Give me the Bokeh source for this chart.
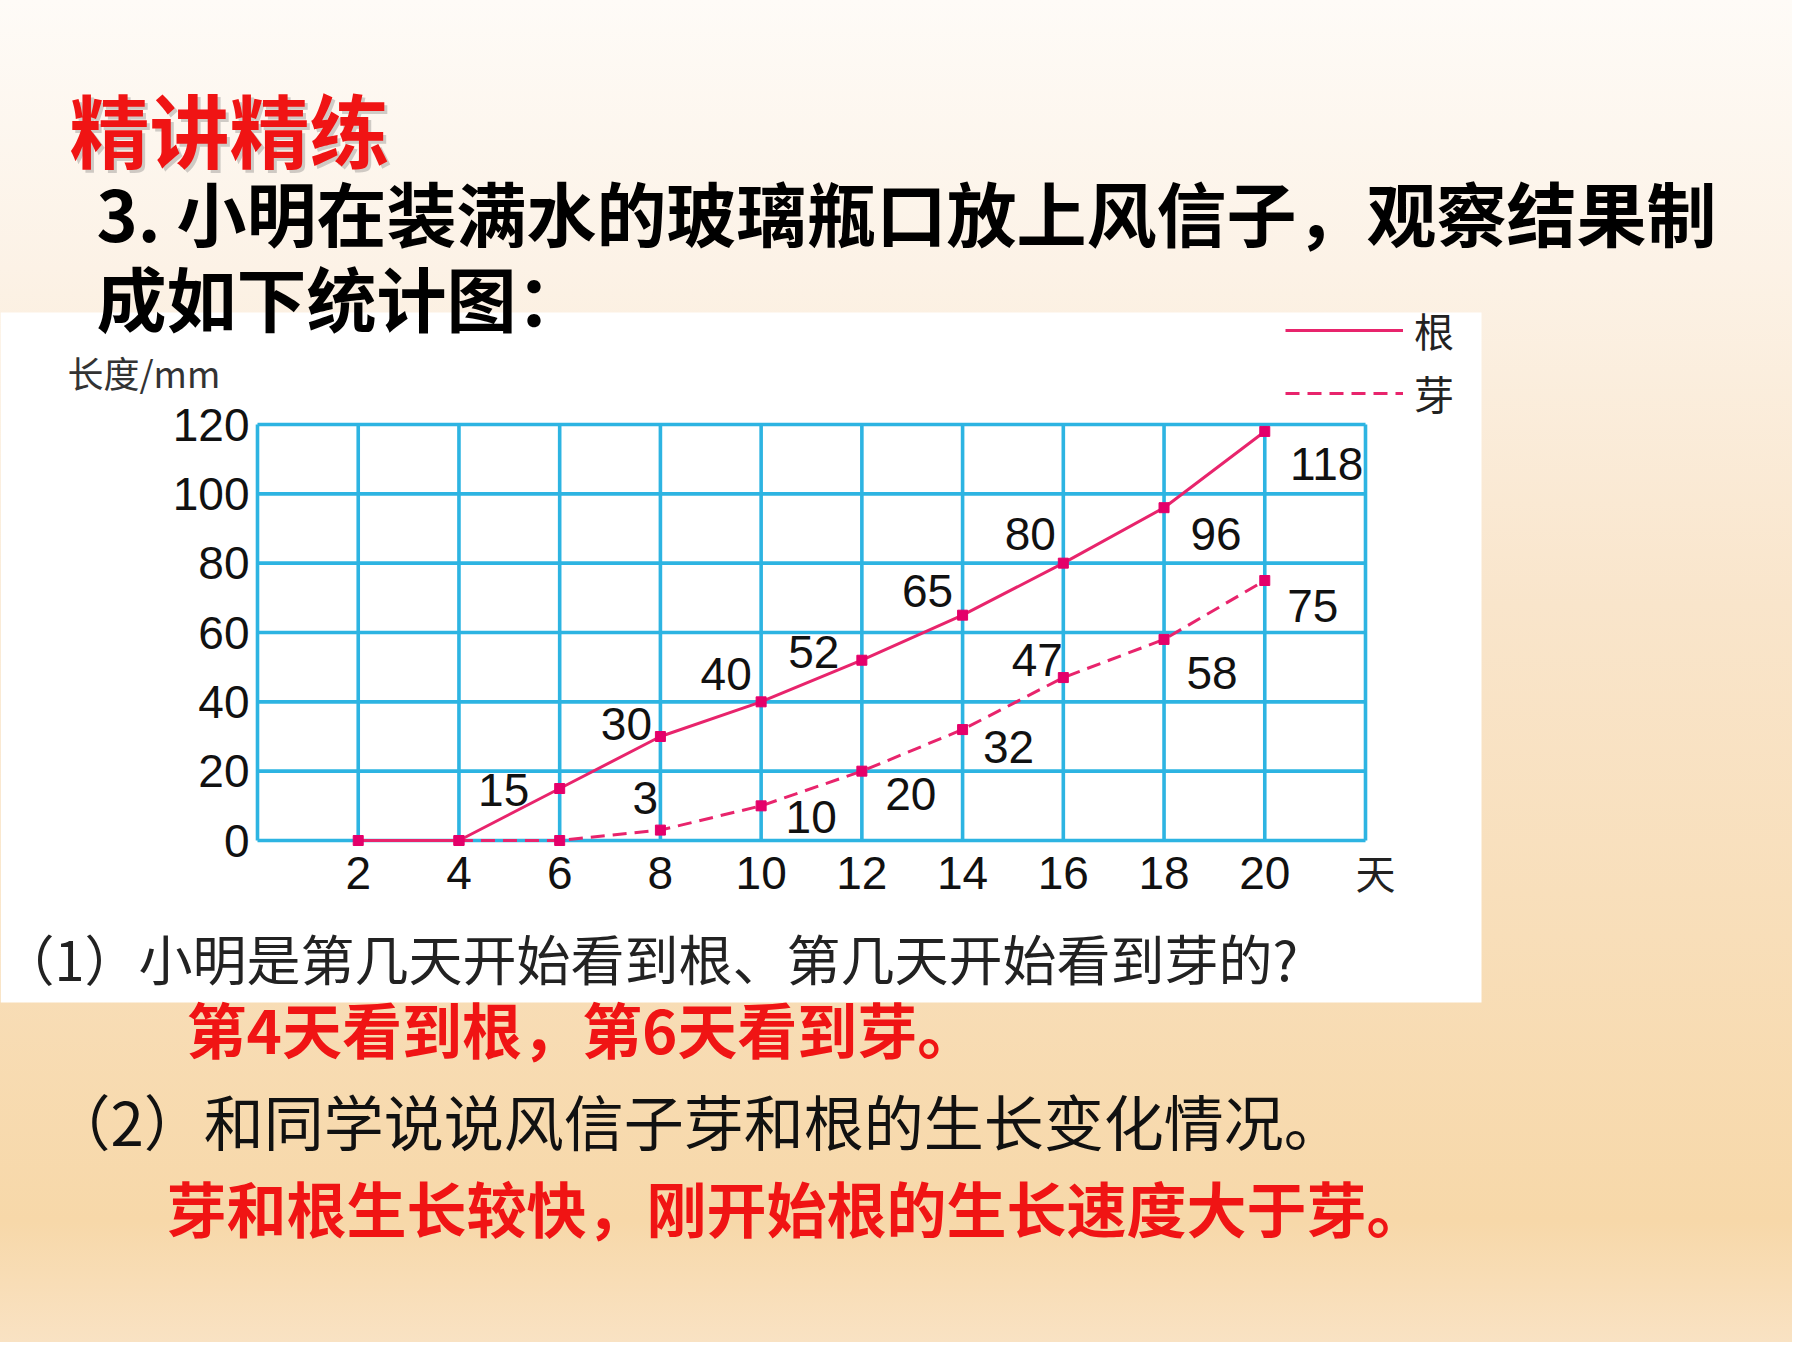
from bokeh.plotting import figure
from bokeh.models import (Range1d, Label, BoxAnnotation, Legend, LegendItem,
                          ColumnDataSource)
from bokeh.core.properties import value
from bokeh.embed import file_html
from bokeh.resources import INLINE

# ---------------- data ----------------
days = [2, 4, 6, 8, 10, 12, 14, 16, 18, 20]
root_mm = [0, 0, 15, 30, 40, 52, 65, 80, 96, 118]
bud_days = [4, 6, 8, 10, 12, 14, 16, 18, 20]
bud_mm = [0, 0, 3, 10, 20, 32, 47, 58, 75]
series_names = ["根", "芽"]

x_tick_values = [2, 4, 6, 8, 10, 12, 14, 16, 18, 20]
x_tick_labels = ["2", "4", "6", "8", "10", "12", "14", "16", "18", "20"]
x_min, x_max = 0, 22
x_unit_label = "天"
y_tick_values = [0, 20, 40, 60, 80, 100, 120]
y_tick_labels = ["0", "20", "40", "60", "80", "100", "120"]
y_axis_title = "长度/mm"

heading = "精讲精练"
question_lines = ["3. 小明在装满水的玻璃瓶口放上风信子，观察结果制", "成如下统计图："]
q1 = "（1）小明是第几天开始看到根、第几天开始看到芽的?"
a1 = "第4天看到根，第6天看到芽。"
q2 = "（2）和同学说说风信子芽和根的生长变化情况。"
a2 = "芽和根生长较快，刚开始根的生长速度大于芽。"

# label pixel offsets (style only)
root_label_dx = [-56, -34, -35, -48, -35, -33, 52, 62]
root_label_dy = [1, -13, -28, -8, -24, -29, 26, 33]
bud_label_dx = [-15, 50, 49, 46, -26, 48, 48]
bud_label_dy = [-32, 11, 23, 17, -18, 34, 25]

# ---------------- layout / styles ----------------
W, H = 1792, 1342
CH_LEFT, CH_RIGHT = 257, 1365               # chart grid box in canvas pixels
CH_TOP, CH_BOTTOM = 424, 840
PINK = "#E8246C"
PINK_MARK = "#E4006A"
GRID = "#2DB4E2"
RED = "#F01414"
CJK = "Noto Sans CJK SC"
NUM = "Liberation Sans"

y_lo, y_hi = y_tick_values[0], y_tick_values[-1]

# chart range mapped so that the data box lands on the grid box
kx = (CH_RIGHT - CH_LEFT) / (x_max - x_min)
ky = (CH_BOTTOM - CH_TOP) / (y_hi - y_lo)
chart_x = Range1d(x_min - CH_LEFT / kx, x_min + (W - CH_LEFT) / kx)
chart_y = Range1d(y_lo - (H - CH_BOTTOM) / ky, y_lo + CH_BOTTOM / ky)

p = figure(width=W, height=H, output_backend="svg", toolbar_location=None,
           x_range=Range1d(0, W), y_range=Range1d(H, 0),
           x_axis_type=None, y_axis_type=None, min_border=0)
p.extra_x_ranges = {"chart": chart_x}
p.extra_y_ranges = {"chart": chart_y}
p.styles = {"background": "linear-gradient(to bottom, #fefbf7 0%, #fcf2e6 20%, "
                          "#f9e5cb 45%, #f7d8a9 91%, #f9e2c3 100%)"}
p.border_fill_alpha = 0
p.background_fill_alpha = 0
p.outline_line_color = None
p.grid.visible = False

C = dict(x_range_name="chart", y_range_name="chart")

# white panel behind the chart
p.add_layout(BoxAnnotation(left=0, right=1481, top=312, bottom=1002,
                           fill_color="white", fill_alpha=1, line_color=None,
                           level="underlay"))

# grid lines (from tick arrays, through the chart scale)
gx = [x_min] + x_tick_values + [x_max]
p.segment(x0=gx, y0=[y_lo] * len(gx), x1=gx, y1=[y_hi] * len(gx),
          line_color=GRID, line_width=3.6, **C)
p.segment(x0=[x_min] * len(y_tick_values), y0=y_tick_values,
          x1=[x_max] * len(y_tick_values), y1=y_tick_values,
          line_color=GRID, line_width=3.6, **C)

# tick labels
p.text(x=x_tick_values, y=[y_lo] * len(x_tick_values), text=x_tick_labels,
       y_offset=32, text_align="center", text_baseline="middle",
       text_font=value(NUM), text_font_size="46px", text_color="#111111", **C)
p.text(x=[x_max], y=[y_lo], text=[x_unit_label], x_offset=10, y_offset=31,
       text_align="center", text_baseline="middle",
       text_font=value(CJK), text_font_size="40px", text_color="#222222", **C)
p.text(x=[x_min] * len(y_tick_values), y=y_tick_values, text=y_tick_labels,
       x_offset=-8, text_align="right", text_baseline="middle",
       text_font=value(NUM), text_font_size="46px", text_color="#111111", **C)

# series
bud_line = p.line(bud_days, bud_mm, line_color=PINK, line_width=3, line_dash="14 8", **C)
p.scatter(bud_days, bud_mm, marker="square", size=10, color=PINK_MARK, **C)
root_line = p.line(days, root_mm, line_color=PINK, line_width=3, **C)
p.scatter(days, root_mm, marker="square", size=10, color=PINK_MARK, **C)

# value labels
rl_x = [d for d, v in zip(days, root_mm) if v > 0]
rl_y = [v for v in root_mm if v > 0]
bl_x = [d for d, v in zip(bud_days, bud_mm) if v > 0]
bl_y = [v for v in bud_mm if v > 0]
lab_src = ColumnDataSource(dict(
    x=rl_x + bl_x, y=rl_y + bl_y,
    text=[str(v) for v in rl_y + bl_y],
    dx=root_label_dx + bud_label_dx, dy=root_label_dy + bud_label_dy))
p.text(x="x", y="y", text="text", x_offset="dx", y_offset="dy", source=lab_src,
       text_align="center", text_baseline="middle", text_font=value(NUM),
       text_font_size="46px", text_color="#111111", **C)

# legend (bottom-left corner given in canvas pixels from bottom-left)
LEG_X, LEG_BOTTOM = 1285, 422
legend = Legend(items=[LegendItem(label=series_names[0], renderers=[root_line]),
                       LegendItem(label=series_names[1], renderers=[bud_line])],
                location=(LEG_X, H - LEG_BOTTOM),
                glyph_width=118, glyph_height=40, label_height=40,
                label_text_font=CJK, label_text_font_size="40px",
                label_text_color="#222222", label_standoff=11, spacing=5,
                padding=0, margin=0, border_line_color=None,
                background_fill_alpha=0)
p.add_layout(legend)


def page_label(text, x, y, size, color, bold=False, font=CJK, alpha=1.0):
    p.add_layout(Label(x=x, y=y, text=text,
                       text_font=font, text_font_size=size, text_color=color,
                       text_alpha=alpha,
                       text_font_style="bold" if bold else "normal",
                       text_align="left", text_baseline="middle"))


# slide texts
page_label(heading, 72, 129, "80px", "#777777", bold=True, alpha=0.35)
page_label(heading, 69, 126, "80px", RED, bold=True)
page_label(question_lines[0], 96, 211, "70px", "#000000", bold=True)
page_label(question_lines[1], 96, 296, "70px", "#000000", bold=True)
page_label(y_axis_title, 67, 371, "36px", "#333333")
page_label(q1, 0, 957, "54px", "#222222")
page_label(a1, 186, 1027, "60px", RED, bold=True)
page_label(q2, 50, 1119, "60px", "#111111")
page_label(a2, 166, 1206, "60px", RED, bold=True)

open("out.html", "w").write(file_html(p, INLINE))
